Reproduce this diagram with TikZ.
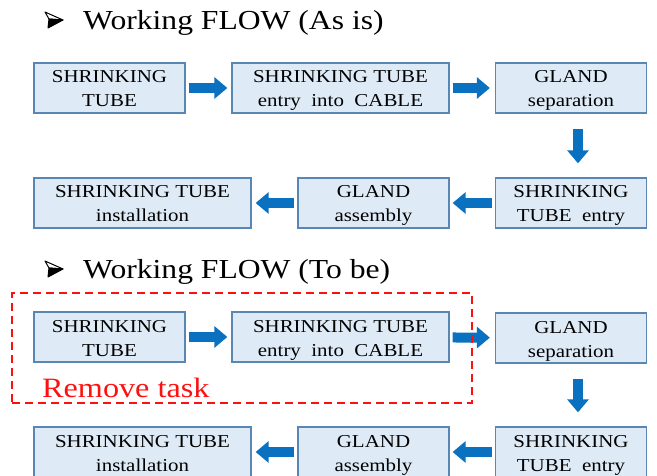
\documentclass[tikz,border=0pt]{standalone}
\usepackage{fontspec}
\setmainfont{Liberation Serif}[FakeStretch=1.15]
\usetikzlibrary{arrows.meta}
\definecolor{boxfill}{HTML}{DEEBF7}
\definecolor{boxline}{HTML}{5A86B4}
\definecolor{flowblue}{HTML}{0A70C0}
\definecolor{alertred}{HTML}{FF1010}
\tikzset{
  stepbox/.style={draw=boxline, line width=1.3pt, fill=boxfill, inner sep=0pt,
    align=center, minimum height=50pt, text=black,
    text height=40pt, text depth=2pt,
    font=\fontsize{18.2}{24}\selectfont},
  widebox/.style={stepbox, minimum width=217pt},
  narrowbox/.style={stepbox, minimum width=151pt},
  flow/.style={draw=flowblue, line width=10pt,
    -{Triangle[length=13pt,width=21pt]}},
  heading/.style={anchor=base west, inner sep=0pt,
    font=\fontsize{27.5}{30}\selectfont},
  removeframe/.style={draw=alertred, line width=1.8pt,
    dash pattern=on 8pt off 5pt, inner sep=0pt},
  % 3D arrowhead bullet in front of a heading
  pics/arrowbullet/.style={code={
    \draw[line width=1pt, line join=round, fill=white]
      (-8,-8) -- (10,0) -- (-4,-1) -- cycle;
    \fill[black, line join=round]
      (-4,-1) -- (10,0) -- (-5,8) -- cycle;
    \draw[line width=1pt, line join=round] (-4,-1) -- (10,0) -- (-5,8) -- cycle;
  }},
}
\begin{document}
\begin{tikzpicture}[x=1pt,y=-1pt]
\useasboundingbox (0,0) rectangle (657,476);

% ---- Working flow, current state ----
\pic at (53,20) {arrowbullet};
\node[heading] (h1) at (83,30) {Working FLOW (As is)};

\node[narrowbox] (a1) at (109.5,88) {SHRINKING\\TUBE};
\node[widebox]   (a2) at (340.5,88) {SHRINKING TUBE\\entry\ \ into\ \ CABLE};
\node[narrowbox] (a3) at (571,88)   {GLAND\\separation};
\node[narrowbox] (a4) at (571,203)  {SHRINKING\\TUBE\ \ entry};
\node[narrowbox] (a5) at (373.5,203) {GLAND\\assembly};
\node[widebox]   (a6) at (142.5,203) {SHRINKING TUBE\\installation};

\draw[flow, shorten <=3pt, shorten >=4pt] (a1) -- (a2);
\draw[flow, shorten <=3pt, shorten >=5pt] (a2) -- (a3);
\draw[flow, shorten <=15pt, shorten >=14pt] ([xshift=7pt]a3.south) -- ([xshift=7pt]a4.north);
\draw[flow, shorten <=3pt, shorten >=3pt] (a4) -- (a5);
\draw[flow, shorten <=3pt, shorten >=4pt] (a5) -- (a6);

% ---- Working flow, target state ----
\pic at (53,269) {arrowbullet};
\node[heading] (h2) at (83,279) {Working FLOW (To be)};

\node[narrowbox] (b1) at (109.5,337) {SHRINKING\\TUBE};
\node[widebox]   (b2) at (340.5,337) {SHRINKING TUBE\\entry\ \ into\ \ CABLE};
\node[narrowbox] (b3) at (571,338)   {GLAND\\separation};
\node[narrowbox] (b4) at (571,452)   {SHRINKING\\TUBE\ \ entry};
\node[narrowbox] (b5) at (373.5,452) {GLAND\\assembly};
\node[widebox]   (b6) at (142.5,452) {SHRINKING TUBE\\installation};

\draw[flow, shorten <=3pt, shorten >=4pt] (b1) -- (b2);
\draw[flow, shorten <=3pt, shorten >=5pt] (b2) -- (b3);
\draw[flow, shorten <=15pt, shorten >=14pt] ([xshift=7pt]b3.south) -- ([xshift=7pt]b4.north);
\draw[flow, shorten <=3pt, shorten >=3pt] (b4) -- (b5);
\draw[flow, shorten <=3pt, shorten >=4pt] (b5) -- (b6);

% steps to be removed
\node[removeframe, minimum width=460pt, minimum height=110pt] (rm) at (242,348) {};
\node[anchor=base west, inner sep=0pt, text=alertred,
      font=\fontsize{28}{30}\selectfont] (rmt) at (42,397) {Remove task};
\end{tikzpicture}
\end{document}
